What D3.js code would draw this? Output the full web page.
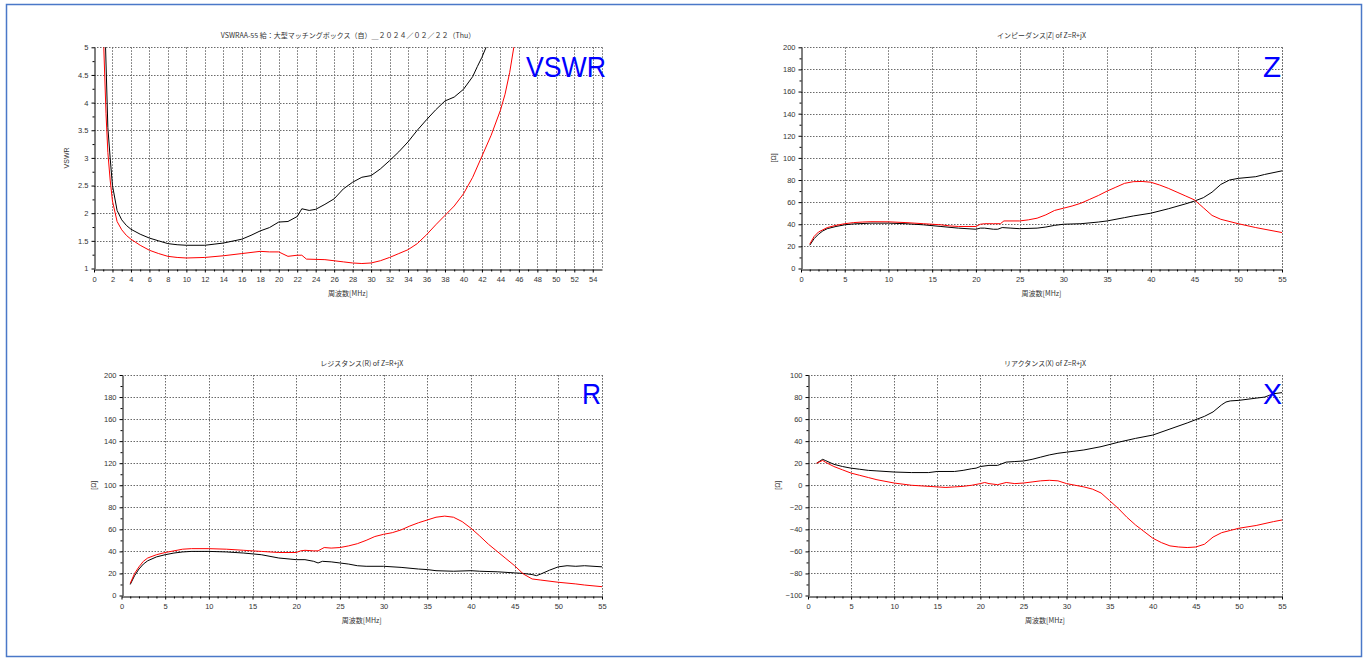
<!DOCTYPE html>
<html><head><meta charset="utf-8">
<script src="https://cdn.jsdelivr.net/npm/d3@7/dist/d3.min.js"></script>
<style>body{margin:0;background:#fff;} svg{display:block;}</style>
</head><body>
<svg id="c" width="1367" height="661"></svg>
<script>
// ---------------- DATA ----------------
const vswrBlackF = [1.2,1.5,1.75,2,2.5,3,3.5,4,5,6,7,8,9,10,12,13,14,16,17,18,19,20,21,22,22.5,23.3,24,25,26,27,28,29,30,31,32,33,34,35,36,37,38,39,40,41,41.5,42,42.7];
const vswrBlackV = [5.3,3.55,3.0,2.5,2.05,1.88,1.78,1.71,1.62,1.55,1.5,1.45,1.43,1.42,1.42,1.44,1.46,1.53,1.6,1.68,1.74,1.84,1.85,1.94,2.08,2.05,2.07,2.16,2.26,2.44,2.56,2.65,2.68,2.8,2.95,3.11,3.29,3.5,3.69,3.87,4.03,4.1,4.24,4.47,4.65,4.82,5.1];
const vswrRedF = [1.0,1.3,1.5,1.75,2,2.5,3,3.5,4,5,6,7,8,9,10,12,14,16,18,19,20,21,22,22.5,23,25,26,27,28,29,30,31,32,33,34,35,36,37,38,39,40,41,42,43,44,44.5,45,45.6];
const vswrRedV = [5.3,3.8,3.1,2.6,2.22,1.85,1.7,1.6,1.53,1.42,1.33,1.27,1.22,1.2,1.19,1.2,1.23,1.27,1.31,1.3,1.3,1.22,1.24,1.24,1.17,1.16,1.14,1.12,1.1,1.09,1.1,1.14,1.2,1.27,1.34,1.45,1.61,1.79,1.96,2.13,2.35,2.65,3.03,3.41,3.86,4.15,4.54,5.15];

const zBlackF = [1,1.5,2,2.5,3,4,5,6,8,10,12,14,16,18,20,20.5,21,22,22.5,23,24,25,27,28,29,30,32,34,35,37,38,40,42,44,45,46,47,48,49,50,52,53,55];
const zBlackV = [21,27,31,34,36,38,39.5,40.3,41,41,40.5,39.5,38,36.5,35.5,36.5,36.5,35.5,35.5,37,36.5,36,36.5,37.5,39,40,40.5,42,43,46,47.5,50,54,58.5,61,64,69,76,80,81.5,83,85,88.3];
const zRedF = [1,1.5,2,2.5,3,4,5,6,7,8,10,12,14,16,17,18,20,20.5,21,22,22.8,23.2,25,26,27,28,29,30,31,32,33,34,35,36,37,38,39,40,41,42,43,44,45,46,47,48,50,52,55];
const zRedV = [22,29,33,35,37,39,40.5,41.5,42,42.3,42.2,41.5,40.5,39.5,38.5,38,38,40,40.5,40.5,40.5,43,43,44,45.5,48.5,52.5,54.5,56.5,59,62.5,66,70,73.5,77,78.5,78.7,78,75.5,72.5,69,65.5,62,55,48,44.5,40.5,37,32.5];

const rBlackF = [1,1.5,2,2.5,3,4,5,6,7,8,10,12,14,16,18,20,21,22,22.5,23,24,25,26,27,28,30,32,34,35,36,38,40,41,43,45,46,47,47.5,48,49,50,51,52,53,55];
const rBlackV = [10,18,24,28.5,31.5,35,37,38.5,39.5,40,40,39.5,38.5,37,34,32.5,32.5,31,29.5,31,30.5,29.5,28.5,27,26.5,26.5,25.5,24,23.5,22.5,22,22.5,22,21.5,20.5,20,19,18,19.5,23,26,27,26.5,27,26];
const rRedF = [1,1.5,2,2.5,3,4,5,6,7,8,10,12,14,16,18,20,20.5,21,22,22.5,23.2,24,25,26,27,28,29,30,31,32,33,34,35,36,37,38,39,40,41,42,43,44,45,46,47,48,50,52,53,55];
const rRedV = [11,20,26,31,34,37,39,40.5,42,42.5,42.5,42,41,40,39,39,40.5,41,40.5,40.5,43.5,43,43.5,45,47,50,53.5,55.5,57,59.5,63,66,68.5,71,72,71,67,61,54,46.5,40,33.5,27,19.5,15,14,12,10.5,9.5,8];

const xBlackF = [1,1.7,2,3,4,5,6,7,8,10,12,14,15,17,18,19,19.5,20,21,22,23,24,25,26,27,28,29,30,32,34,36,38,40,42,44,45,46,47,48,48.5,49,50,52,53,54,55];
const xBlackV = [20,23.5,22.5,19,17,15.5,14.5,13.5,13,12,11.5,11.5,12.5,12.5,13.5,15,15.5,17,18,18,21,21.5,22,23.5,25.5,27.5,29,30,32,35,39,42.5,45.5,51,56.5,59.5,62.5,66.5,73,75.5,76.5,77,79,80,83,84];
const xRedF = [1,1.7,2,3,4,5,6,7,8,10,12,13,15,16,17,18,19,20,20.5,21,22,23,24,25,26,27,28,29,30,31,32,33,34,35,36,37,38,39,40,41,42,43,44,45,46,47,48,49,50,52,54,55];
const xRedV = [20,22.5,21,17,14,11,9,7,5,2,0,-0.5,-1.5,-2,-1.5,-1,0,1.5,2.5,1.5,0.5,2.5,1.5,2,3,4,4.5,4,1.5,0,-1.5,-3.5,-7,-14,-21,-29,-36,-42,-48,-52,-55,-56,-56.5,-56,-53.5,-47,-43,-41,-39,-36.5,-33,-31.5];

const vswrXTicks = d3.range(0, 55, 2);
const vswrYTicks = [1,1.5,2,2.5,3,3.5,4,4.5,5];
const ohmXTicks = d3.range(0, 56, 5);
const ohmYTicks = d3.range(0, 201, 20);
const reacYTicks = d3.range(-100, 101, 20);

const titles = {
  vswr: "VSWRAA-55 給：大型マッチングボックス（自）＿２０２４／０２／２２（Thu）",
  z: "インピーダンス|Z| of Z=R+jX",
  r: "レジスタンス(R) of Z=R+jX",
  x: "リアクタンス(X) of Z=R+jX"
};
const xLabel = "周波数[MHz]";

// ---------------- DRAW ----------------
const svg = d3.select("#c");
svg.append("rect").attr("x",6.5).attr("y",4.5).attr("width",1355).attr("height",652)
  .attr("fill","none").attr("stroke","#4a78c8").attr("stroke-width",1.5);

const jp = "'Noto Sans CJK JP', 'Noto Sans', sans-serif";
const lat = "'Liberation Sans', Arial, sans-serif";

function panel(cfg, idx){
  const [x0,x1,y0,y1] = cfg.box;
  const x = d3.scaleLinear().domain([0,55]).range([x0,x1]);
  const y = d3.scaleLinear().domain(cfg.ydom).range([y1,y0]);
  const g = svg.append("g");
  // grid
  const grid = g.append("g").attr("stroke","#6a6a6a").attr("stroke-width",1).attr("stroke-dasharray","1.5,1.5");
  cfg.xt.filter(v=>v>cfg.xt[0]).forEach(v=>{
    grid.append("line").attr("x1",Math.round(x(v))+0.5).attr("x2",Math.round(x(v))+0.5).attr("y1",y0).attr("y2",y1);
  });
  grid.append("line").attr("x1",Math.round(x1)+0.5).attr("x2",Math.round(x1)+0.5).attr("y1",y0).attr("y2",y1);
  cfg.yt.filter(v=>v>cfg.ydom[0]).forEach(v=>{
    grid.append("line").attr("y1",Math.round(y(v))+0.5).attr("y2",Math.round(y(v))+0.5).attr("x1",x0).attr("x2",x1);
  });
  // clip
  const cid = "clip"+idx;
  svg.append("clipPath").attr("id",cid).append("rect").attr("x",x0).attr("y",y0).attr("width",x1-x0).attr("height",y1-y0);
  const line = d3.line().x(d=>x(d[0])).y(d=>y(d[1]));
  cfg.series.forEach(s=>{
    g.append("path").attr("clip-path","url(#"+cid+")")
      .attr("d", line(d3.zip(s.f, s.v)))
      .attr("fill","none").attr("stroke",s.c).attr("stroke-width",1);
  });
  // axes
  const fmt = d3.format("~g");
  g.append("g").attr("transform",`translate(0,${Math.round(y1)+0.5})`)
    .call(d3.axisBottom(x).tickValues(cfg.xt).tickSize(3).tickSizeOuter(0).tickPadding(4).tickFormat(fmt));
  g.append("g").attr("transform",`translate(0,${Math.round(y1)+0.5})`)
    .call(d3.axisBottom(x).tickValues(cfg.xm).tickSize(2).tickSizeOuter(0).tickFormat(""))
    .select(".domain").remove();
  g.append("g").attr("transform",`translate(${Math.round(x0)+0.5},0)`)
    .call(d3.axisLeft(y).tickValues(cfg.yt).tickSize(3).tickSizeOuter(0).tickPadding(3).tickFormat(fmt));
  g.append("g").attr("transform",`translate(${Math.round(x0)+0.5},0)`)
    .call(d3.axisLeft(y).tickValues(cfg.ym).tickSize(2).tickSizeOuter(0).tickFormat(""))
    .select(".domain").remove();
  g.selectAll(".tick text").attr("font-family",lat).attr("font-size","7.5px").attr("fill","#333");
  g.selectAll(".domain, .tick line").attr("stroke","#000");
  // titles and labels
  const cx = (x0+x1)/2;
  g.append("text").attr("x",cx).attr("y",y0-9).attr("text-anchor","middle")
    .attr("font-family",jp).attr("font-size","7px").attr("fill","#333").text(cfg.title);
  g.append("text").attr("x",cx).attr("y",y1+27.5).attr("text-anchor","middle")
    .attr("font-family",jp).attr("font-size","7px").attr("fill","#333").text(xLabel);
  const cy = (y0+y1)/2;
  g.append("text").attr("transform",`translate(${cfg.ylx},${cy}) rotate(-90)`).attr("text-anchor","middle")
    .attr("font-family",lat).attr("font-size","7px").attr("fill","#333").text(cfg.ylab);
  // big blue label
  g.append("text").attr("x",cfg.big[0]).attr("y",cfg.big[1]).attr("text-anchor","end")
    .attr("font-family",lat).attr("font-size","30px").attr("fill","#0000ff")
    .attr("textLength",cfg.big[2]).attr("lengthAdjust","spacingAndGlyphs").text(cfg.big[3]);
}

const minorX2 = d3.range(1, 55, 2);
const minorX1 = d3.range(0, 56, 1).filter(v=>v%5!==0);
const minorOhm = d3.range(10, 200, 20);
const minorReac = d3.range(-90, 100, 20);
const minorV = d3.range(1.25, 5, 0.5);

const panels = [
  {box:[94,602,47.3,268.5], ydom:[1,5], xt:vswrXTicks, xm:minorX2, yt:vswrYTicks, ym:minorV, title:titles.vswr, ylab:"VSWR", ylx:69,
   big:[606,77,80,"VSWR"], series:[{f:vswrBlackF,v:vswrBlackV,c:"#000"},{f:vswrRedF,v:vswrRedV,c:"#ff0000"}]},
  {box:[801,1282,47.3,268.5], ydom:[0,200], xt:ohmXTicks, xm:minorX1, yt:ohmYTicks, ym:minorOhm, title:titles.z, ylab:"[Ω]", ylx:775.5,
   big:[1281,77,18,"Z"], series:[{f:zBlackF,v:zBlackV,c:"#000"},{f:zRedF,v:zRedV,c:"#ff0000"}]},
  {box:[121.5,602,375,595.5], ydom:[0,200], xt:ohmXTicks, xm:minorX1, yt:ohmYTicks, ym:minorOhm, title:titles.r, ylab:"[Ω]", ylx:96,
   big:[601,404,19,"R"], series:[{f:rBlackF,v:rBlackV,c:"#000"},{f:rRedF,v:rRedV,c:"#ff0000"}]},
  {box:[808,1282,375,595.5], ydom:[-100,100], xt:ohmXTicks, xm:minorX1, yt:reacYTicks, ym:minorReac, title:titles.x, ylab:"[Ω]", ylx:779.5,
   big:[1282,404,19,"X"], series:[{f:xBlackF,v:xBlackV,c:"#000"},{f:xRedF,v:xRedV,c:"#ff0000"}]}
];
panels.forEach(panel);
</script>
</body></html>
